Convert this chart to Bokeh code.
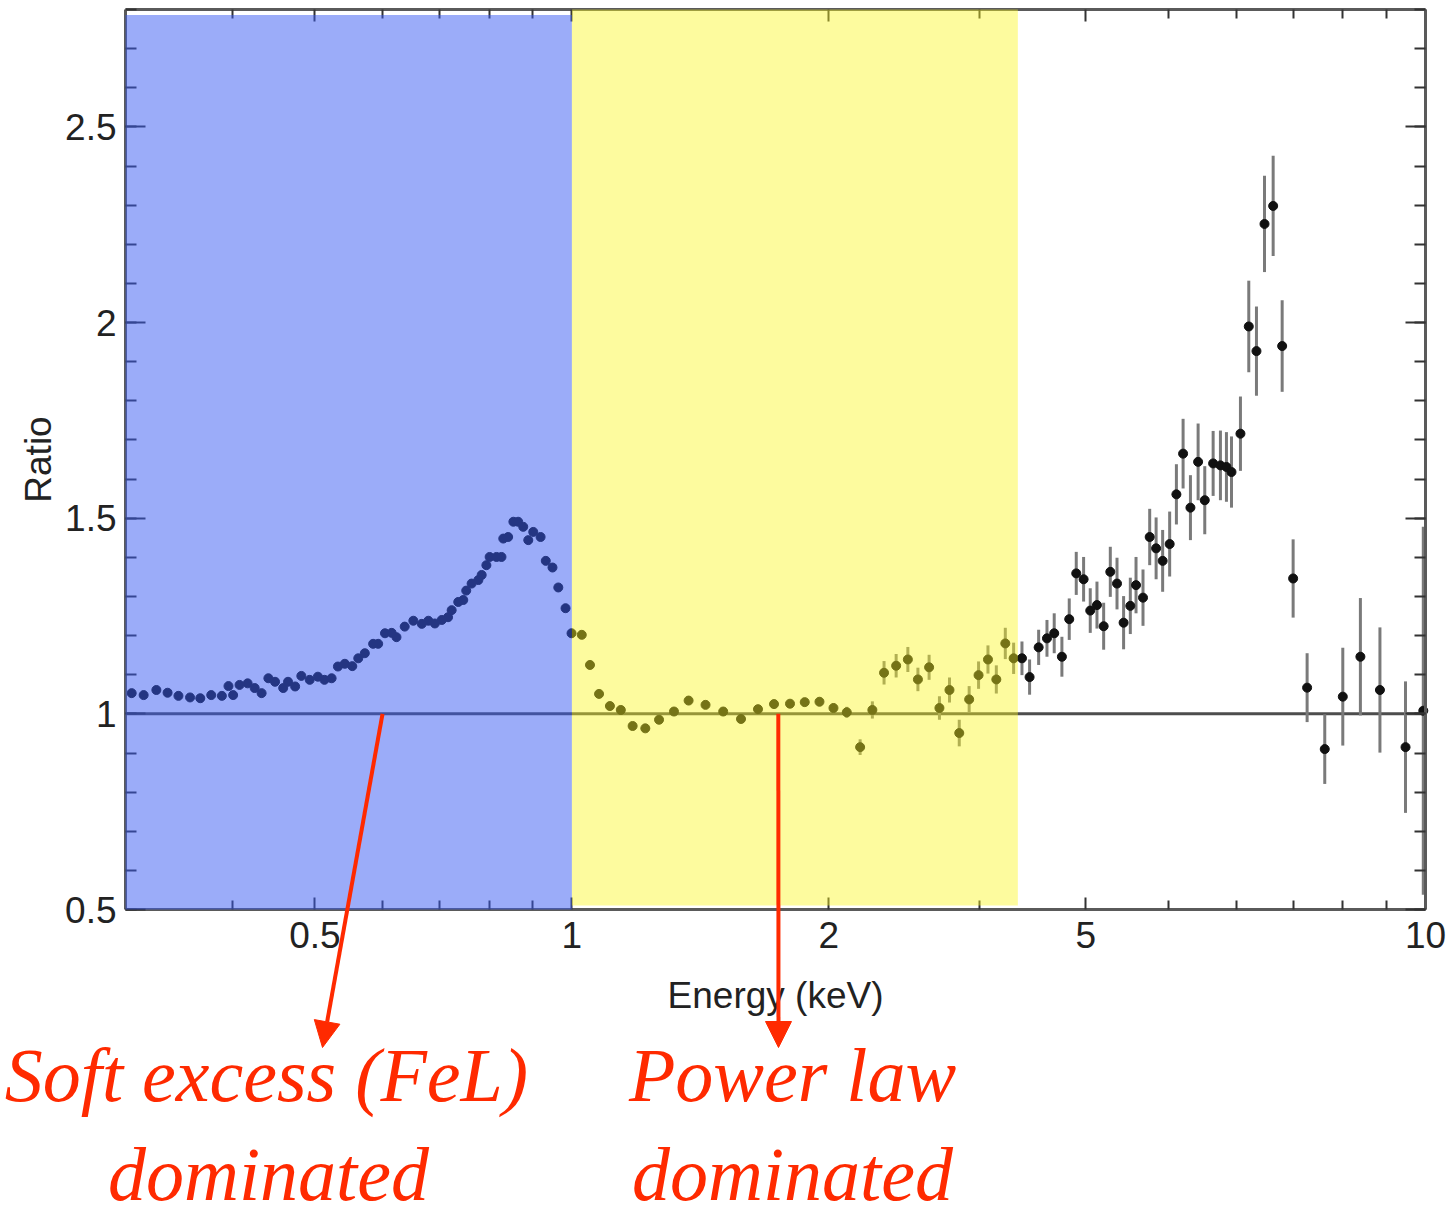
from bokeh.plotting import figure
from bokeh.models import (LogAxis, LinearAxis, FixedTicker, SingleIntervalTicker,
                          BoxAnnotation, Label, Arrow, NormalHead, ColumnDataSource)
from bokeh.embed import file_html
from bokeh.resources import INLINE

# ---------------- data ----------------
energy = [
    0.305, 0.315, 0.326, 0.336, 0.346, 0.357, 0.367, 0.378, 0.389, 0.396,
    0.401, 0.408, 0.417, 0.425, 0.433, 0.441, 0.449, 0.459, 0.465, 0.474,
    0.482, 0.493, 0.504, 0.513, 0.523, 0.532, 0.542, 0.553, 0.562, 0.572,
    0.585, 0.593, 0.604, 0.615, 0.623, 0.637, 0.652, 0.667, 0.679, 0.691,
    0.704, 0.716, 0.723, 0.736, 0.746, 0.752, 0.763, 0.777, 0.784, 0.794,
    0.801, 0.816, 0.827, 0.831, 0.842, 0.854, 0.865, 0.877, 0.889, 0.901,
    0.919, 0.932, 0.949, 0.964, 0.983, 0.999,
    1.027, 1.050, 1.076, 1.108, 1.141, 1.178, 1.219, 1.265, 1.317, 1.370,
    1.434, 1.504, 1.578, 1.652, 1.725, 1.801, 1.874, 1.950, 2.025, 2.099,
    2.176, 2.249, 2.321, 2.398, 2.475, 2.543, 2.621, 2.695, 2.769, 2.843,
    2.920, 2.995, 3.072, 3.142, 3.219, 3.292,
    3.367, 3.437, 3.522, 3.602, 3.673, 3.750, 3.825, 3.898, 3.976, 4.048,
    4.122, 4.197, 4.273, 4.351, 4.429, 4.510, 4.580, 4.667, 4.752, 4.835,
    4.921, 5.015, 5.107, 5.200, 5.304, 5.415, 5.513, 5.639, 5.751, 5.845,
    5.925, 6.070, 6.208, 6.338, 6.477, 6.630, 6.793, 6.997, 7.266, 7.620,
    8.000, 8.389, 8.843, 9.475, 9.940,
]
ratio = [
    1.053, 1.048, 1.061, 1.054, 1.046, 1.042, 1.040, 1.048, 1.046, 1.071,
    1.048, 1.074, 1.078, 1.066, 1.053, 1.091, 1.082, 1.066, 1.082, 1.070,
    1.097, 1.087, 1.095, 1.087, 1.091, 1.121, 1.128, 1.122, 1.142, 1.155,
    1.179, 1.179, 1.206, 1.207, 1.196, 1.223, 1.238, 1.230, 1.238, 1.231,
    1.240, 1.247, 1.265, 1.286, 1.291, 1.315, 1.333, 1.342, 1.355, 1.380,
    1.401, 1.401, 1.401, 1.448, 1.452, 1.491, 1.491, 1.478, 1.444, 1.465,
    1.452, 1.391, 1.374, 1.323, 1.270, 1.206,
    1.202, 1.125, 1.051, 1.020, 1.010, 0.969, 0.963, 0.985, 1.006, 1.034,
    1.023, 1.006, 0.987, 1.012, 1.025, 1.026, 1.030, 1.031, 1.015, 1.004,
    0.915, 1.010, 1.105, 1.123, 1.139, 1.088, 1.119, 1.015, 1.061, 0.951,
    1.037, 1.099, 1.139, 1.088, 1.180, 1.142,
    1.142, 1.094, 1.170, 1.193, 1.206, 1.146, 1.242, 1.359, 1.344, 1.264,
    1.278, 1.224, 1.363, 1.333, 1.233, 1.276, 1.329, 1.297, 1.452, 1.423,
    1.391, 1.434, 1.561, 1.665, 1.527, 1.644, 1.546, 1.640, 1.635, 1.631,
    1.618, 1.716, 1.990, 1.927, 2.252, 2.298, 1.940, 1.346, 1.067, 0.910,
    1.044, 1.146, 1.061, 0.915, 1.008,
]
ratio_err = [
    0.005, 0.005, 0.005, 0.005, 0.005, 0.005, 0.005, 0.005, 0.005, 0.005,
    0.005, 0.005, 0.005, 0.005, 0.005, 0.005, 0.005, 0.005, 0.005, 0.005,
    0.005, 0.005, 0.005, 0.005, 0.005, 0.005, 0.005, 0.005, 0.005, 0.005,
    0.005, 0.005, 0.005, 0.005, 0.005, 0.005, 0.005, 0.005, 0.005, 0.005,
    0.005, 0.005, 0.005, 0.005, 0.005, 0.005, 0.005, 0.005, 0.005, 0.005,
    0.005, 0.005, 0.005, 0.005, 0.005, 0.005, 0.005, 0.005, 0.005, 0.005,
    0.005, 0.005, 0.005, 0.006, 0.006, 0.006,
    0.006, 0.006, 0.006, 0.006, 0.006, 0.007, 0.007, 0.007, 0.007, 0.008,
    0.008, 0.008, 0.009, 0.009, 0.009, 0.010, 0.010, 0.011, 0.012, 0.014,
    0.020, 0.022, 0.030, 0.030, 0.032, 0.030, 0.032, 0.030, 0.032, 0.034,
    0.034, 0.035, 0.036, 0.036, 0.040, 0.040,
    0.043, 0.045, 0.045, 0.047, 0.051, 0.051, 0.053, 0.055, 0.057, 0.057,
    0.060, 0.060, 0.064, 0.066, 0.068, 0.072, 0.072, 0.072, 0.072, 0.079,
    0.079, 0.083, 0.077, 0.089, 0.083, 0.098, 0.087, 0.083, 0.089, 0.089,
    0.091, 0.095, 0.117, 0.114, 0.123, 0.128, 0.117, 0.100, 0.088, 0.089,
    0.125, 0.150, 0.160, 0.168, 0.470,
]

x_tick_values = [0.5, 1, 2, 4, 10]
x_tick_labels = ["0.5", "1", "2", "5", "10"]
x_minor_ticks = [0.4, 0.6, 0.7, 0.8, 0.9, 3, 5, 6, 7, 8, 9]
y_tick_values = [0.5, 1, 1.5, 2, 2.5]
y_tick_labels = ["0.5", "1", "1.5", "2", "2.5"]

x_limits = (0.3, 10)         # plotted box, keV
y_limits = (0.5, 2.8)        # plotted box, ratio
soft_band = (0.3, 1.0)       # keV, soft-excess dominated region
powerlaw_band = (1.0, 3.33)  # keV, power-law dominated region
reference_ratio = 1.0

soft_arrow_from = 0.6        # keV on the ratio = 1 line
powerlaw_arrow_from = 1.745  # keV on the ratio = 1 line

# ---------------- figure ----------------
RED = "#ff2a00"
FRAME = "#5a5a5a"
INK = "#222222"
W, H = 1451, 1217
# The drawing frame covers the whole page so that the axis labels and the notes under the
# chart are all drawn inside it; the plotted box itself is x_limits x y_limits.
x_view = (0.2141, 10.726)
y_view = (-0.287, 2.823)

p = figure(width=W, height=H, x_axis_type="log", x_range=x_view, y_range=y_view,
           output_backend="svg", toolbar_location=None,
           min_border_left=0, min_border_right=0, min_border_top=0, min_border_bottom=0,
           background_fill_color="white", border_fill_color="white")
p.xgrid.visible = False
p.ygrid.visible = False
p.outline_line_color = None

xticker = FixedTicker(ticks=x_tick_values, minor_ticks=x_minor_ticks)
yticker = SingleIntervalTicker(interval=0.5, num_minor_ticks=5)


def style_axis(ax, labels=True):
    ax.axis_line_color = FRAME
    ax.axis_line_width = 3
    ax.major_tick_out = 0
    ax.minor_tick_out = 0
    ax.major_tick_line_color = "#333333"
    ax.minor_tick_line_color = "#333333"
    ax.major_tick_line_width = 2
    ax.minor_tick_line_width = 2
    if labels:
        ax.major_label_text_font = "Liberation Sans"
        ax.major_label_text_font_size = "37px"
        ax.major_label_text_color = INK
    else:
        ax.major_label_text_font_size = "1px"
        ax.major_label_text_color = None
        ax.major_label_standoff = 0


xax = p.xaxis[0]
xax.ticker = xticker
xax.fixed_location = y_limits[0]
xax.bounds = x_limits
xax.major_label_overrides = {v: t for v, t in zip(x_tick_values, x_tick_labels)}
style_axis(xax)
xax.major_tick_in = 12
xax.minor_tick_in = 9
xax.major_label_standoff = 12

yax = p.yaxis[0]
yax.ticker = yticker
yax.fixed_location = x_limits[0]
yax.bounds = y_limits
yax.major_label_overrides = {v: t for v, t in zip(y_tick_values, y_tick_labels)}
style_axis(yax)
yax.major_tick_in = 20
yax.minor_tick_in = 11
yax.major_label_standoff = 9

top = LogAxis(ticker=xticker, fixed_location=y_limits[1], bounds=x_limits)
style_axis(top, labels=False)
top.major_tick_in = 12
top.minor_tick_in = 9
p.add_layout(top, "above")

right = LinearAxis(ticker=yticker, fixed_location=x_limits[1], bounds=y_limits)
style_axis(right, labels=False)
right.major_tick_in = 20
right.minor_tick_in = 11
p.add_layout(right, "right")

# axis titles (placed by hand because the frame fills the page)
p.add_layout(Label(x=775, y=995, x_units="canvas", y_units="canvas", text="Energy (keV)",
                   text_align="center", text_baseline="middle", text_font="Liberation Sans",
                   text_font_size="37px", text_color=INK))
p.add_layout(Label(x=38, y=459, x_units="canvas", y_units="canvas", text="Ratio", angle=1.5708,
                   text_align="center", text_baseline="middle", text_font="Liberation Sans",
                   text_font_size="37px", text_color=INK))

# reference line at ratio = 1 across the plotted box
p.segment(x0=[x_limits[0]], y0=[reference_ratio], x1=[x_limits[1]], y1=[reference_ratio],
          line_color="#4d4d4d", line_width=3)

# data with error bars
src = ColumnDataSource(dict(
    e=energy, r=ratio,
    lo=[r - s for r, s in zip(ratio, ratio_err)],
    hi=[r + s for r, s in zip(ratio, ratio_err)],
))
p.segment(x0="e", y0="lo", x1="e", y1="hi", source=src, line_color="#7a7a7a", line_width=3)
p.scatter(x="e", y="r", source=src, size=9, fill_color="#111111", line_color="#111111")

# translucent shaded regions laid over the data
p.add_layout(BoxAnnotation(left=soft_band[0], right=soft_band[1], bottom=y_limits[0], top=2.786,
                           fill_color="#385af4", fill_alpha=0.5, line_color=None))
p.add_layout(BoxAnnotation(left=powerlaw_band[0], right=powerlaw_band[1], bottom=0.51, top=y_limits[1],
                           fill_color="#faf51e", fill_alpha=0.43, line_color=None))

# red arrows and notes below the chart (canvas units, y measured from the top)
for x0, xend in ((soft_arrow_from, 322), (powerlaw_arrow_from, 778)):
    p.add_layout(Arrow(end=NormalHead(size=26, fill_color=RED, line_color=RED),
                       x_start=x0, y_start=reference_ratio, start_units="data",
                       x_end=xend, y_end=1047, end_units="canvas",
                       line_color=RED, line_width=4))

for txt, cx, mid in (("Soft excess (FeL)", 266, 1074), ("dominated", 268, 1173),
                     ("Power law", 792, 1074), ("dominated", 792, 1173)):
    p.add_layout(Label(x=cx, y=mid, x_units="canvas", y_units="canvas", text=txt,
                       text_align="center", text_baseline="middle",
                       text_font="Liberation Serif", text_font_style="italic",
                       text_font_size="76px", text_color=RED))

open("out.html", "w").write(file_html(p, INLINE))
